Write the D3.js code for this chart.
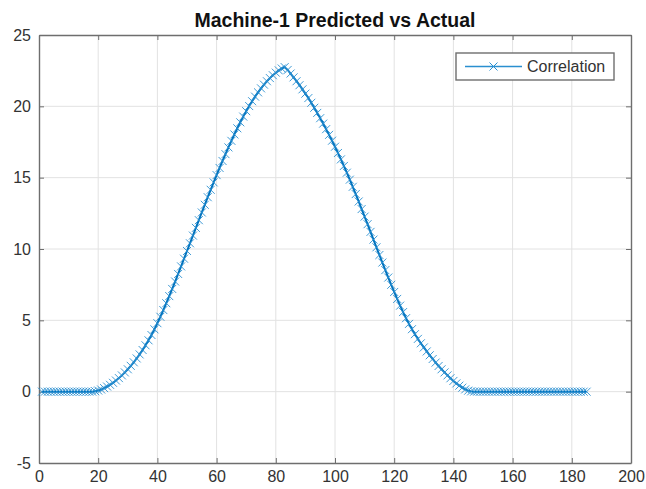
<!DOCTYPE html>
<html>
<head>
<meta charset="utf-8">
<script src="https://cdn.jsdelivr.net/npm/d3@7"></script>
<style>
  html, body { margin: 0; padding: 0; background: #fff; }
  svg { display: block; }
</style>
</head>
<body>
<svg id="chart" width="646" height="489"></svg>
<script>
const chartTitle = "Machine-1 Predicted vs Actual";
const seriesName = "Correlation";
const xTicks = [0, 20, 40, 60, 80, 100, 120, 140, 160, 180, 200];
const yTicks = [-5, 0, 5, 10, 15, 20, 25];
const xDomain = [0, 200];
const yDomain = [-5, 25];

// correlation values for lag index 1..185
const corr = [
  0,0,0,0,0,0,0,0,0,0,            // 1-10
  0,0,0,0,0,0,0,0,0.03,0.08,      // 11-20
  0.15,0.25,0.36,0.48,0.62,0.78,0.95,1.14,1.35,1.57,   // 21-30
  1.81,2.06,2.33,2.61,2.92,3.25,3.6,3.97,4.37,4.8,     // 31-40
  5.25,5.72,6.2,6.7,7.2,7.72,8.25,8.78,9.32,9.86,      // 41-50
  10.4,10.94,11.48,12.02,12.56,13.1,13.63,14.15,14.67,15.18, // 51-60
  15.68,16.17,16.65,17.12,17.58,18.03,18.46,18.88,19.28,19.66, // 61-70
  20.02,20.36,20.68,20.98,21.26,21.52,21.76,21.98,22.18,22.36, // 71-80
  22.52,22.65,22.75,22.55,22.3,22.03,21.76,21.48,21.19,20.89,  // 81-90
  20.58,20.25,19.9,19.54,19.17,18.79,18.4,18.0,17.59,17.17,    // 91-100
  16.73,16.28,15.82,15.35,14.86,14.36,13.85,13.33,12.8,12.27,  // 101-110
  11.74,11.2,10.66,10.12,9.58,9.05,8.52,8.0,7.49,6.99,         // 111-120
  6.5,6.03,5.58,5.15,4.75,4.38,4.03,3.7,3.39,3.1,              // 121-130
  2.82,2.55,2.29,2.04,1.8,1.57,1.35,1.14,0.94,0.75,            // 131-140
  0.58,0.42,0.28,0.16,0.07,0.02,0,0,0,0,                       // 141-150
  0,0,0,0,0,0,0,0,0,0,            // 151-160
  0,0,0,0,0,0,0,0,0,0,            // 161-170
  0,0,0,0,0,0,0,0,0,0,            // 171-180
  0,0,0,0,0                       // 181-185
];
const lags = corr.map((_, i) => i + 1);

const W = 646, H = 489;
const m = { left: 39, right: 15, top: 35, bottom: 26 };
const svg = d3.select("#chart");
const x = d3.scaleLinear().domain(xDomain).range([m.left, W - m.right]);
const y = d3.scaleLinear().domain(yDomain).range([H - m.bottom, m.top]);

const blue = "#0072BD";
const axisColor = "#6e6e6e";
const textColor = "#333";
const fontFam = "'Liberation Sans', Arial, Helvetica, sans-serif";

// grid
const grid = svg.append("g");
grid.selectAll("line.gx").data(xTicks.slice(1, -1)).join("line")
  .attr("x1", d => x(d)).attr("x2", d => x(d))
  .attr("y1", y(yDomain[0])).attr("y2", y(yDomain[1]))
  .attr("stroke", "#e2e2e2").attr("stroke-width", 1);
grid.selectAll("line.gy").data(yTicks.slice(1, -1)).join("line")
  .attr("x1", x(xDomain[0])).attr("x2", x(xDomain[1]))
  .attr("y1", d => y(d)).attr("y2", d => y(d))
  .attr("stroke", "#e2e2e2").attr("stroke-width", 1);

// axes (inward ticks, box)
const tickLen = 5;
const fmt = d => String(d);
const axB = d3.axisBottom(x).tickValues(xTicks).tickSizeInner(-tickLen).tickSizeOuter(0).tickPadding(8).tickFormat(fmt);
const axT = d3.axisTop(x).tickValues(xTicks).tickSizeInner(-tickLen).tickSizeOuter(0).tickFormat("");
const axL = d3.axisLeft(y).tickValues(yTicks).tickSizeInner(-tickLen).tickSizeOuter(0).tickPadding(8).tickFormat(fmt);
const axR = d3.axisRight(y).tickValues(yTicks).tickSizeInner(-tickLen).tickSizeOuter(0).tickFormat("");

function styleAxis(g) {
  g.selectAll("path.domain").attr("stroke", axisColor).attr("stroke-width", 1.4);
  g.selectAll(".tick line").attr("stroke", axisColor).attr("stroke-width", 1);
  g.selectAll(".tick text").attr("fill", textColor).style("font-family", fontFam).style("font-size", "16px");
}
svg.append("g").attr("transform", `translate(0,${y(yDomain[0])})`).call(axB).call(styleAxis);
svg.append("g").attr("transform", `translate(0,${y(yDomain[1])})`).call(axT).call(styleAxis);
svg.append("g").attr("transform", `translate(${x(xDomain[0])},0)`).call(axL).call(styleAxis);
svg.append("g").attr("transform", `translate(${x(xDomain[1])},0)`).call(axR).call(styleAxis);

// line
const line = d3.line().x((d, i) => x(lags[i])).y(d => y(d));
svg.append("path").datum(corr)
  .attr("d", line).attr("fill", "none")
  .attr("stroke", blue).attr("stroke-width", 2);

// x markers
const ms = 4;
const markers = svg.append("g").attr("stroke", "#2a8fd0").attr("stroke-width", 1).attr("stroke-opacity", 0.9);
markers.selectAll("path").data(corr).join("path")
  .attr("d", (d, i) => {
    const cx = x(lags[i]), cy = y(d);
    return `M${cx - ms},${cy - ms}L${cx + ms},${cy + ms}M${cx - ms},${cy + ms}L${cx + ms},${cy - ms}`;
  });

// title
svg.append("text")
  .attr("x", (x(xDomain[0]) + x(xDomain[1])) / 2).attr("y", 27)
  .attr("text-anchor", "middle")
  .style("font-family", fontFam).style("font-size", "19.5px").style("font-weight", "bold")
  .attr("fill", "#111")
  .text(chartTitle);

// legend
const lg = svg.append("g").attr("transform", "translate(456,53)");
lg.append("rect").attr("width", 158).attr("height", 27)
  .attr("fill", "#fff").attr("stroke", axisColor).attr("stroke-width", 1.4);
lg.append("line").attr("x1", 9).attr("x2", 66).attr("y1", 13.5).attr("y2", 13.5)
  .attr("stroke", "#2a8fd0").attr("stroke-width", 1.3);
lg.append("path")
  .attr("d", `M${37.5 - ms},${13.5 - ms}L${37.5 + ms},${13.5 + ms}M${37.5 - ms},${13.5 + ms}L${37.5 + ms},${13.5 - ms}`)
  .attr("stroke", "#2a8fd0").attr("stroke-width", 1);
lg.append("text").attr("x", 71).attr("y", 19)
  .style("font-family", fontFam).style("font-size", "16px").attr("fill", textColor)
  .text(seriesName);
</script>
</body>
</html>
